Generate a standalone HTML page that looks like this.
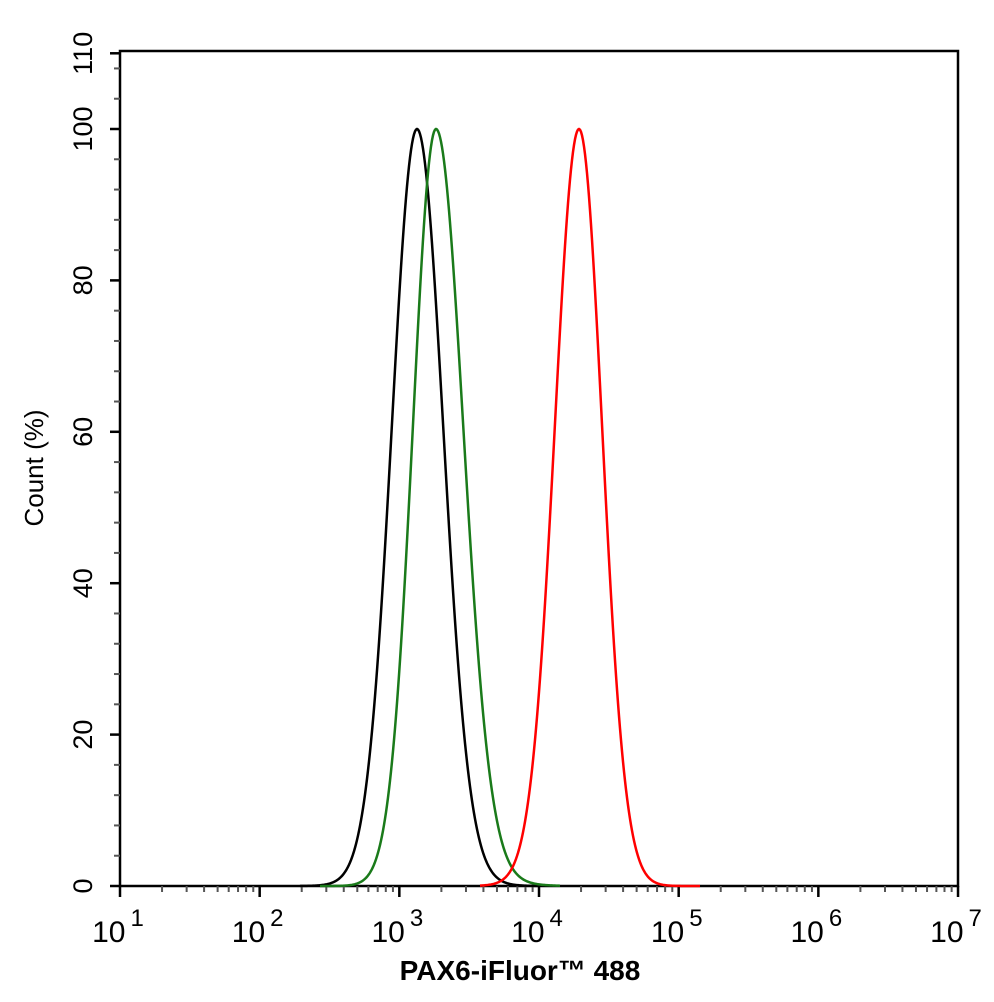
<!DOCTYPE html>
<html><head><style>
body{margin:0;background:#fff;}
svg{display:block;font-family:"Liberation Sans",Arial,sans-serif;}
</style></head><body>
<svg id="s" width="994" height="1002" viewBox="0 0 994 1002" xmlns="http://www.w3.org/2000/svg">
<rect x="120" y="51" width="838" height="835" fill="none" stroke="#000" stroke-width="2.5"/>
<g id="ticks"></g>
<g fill="#000">
<text transform="translate(43,468) rotate(-90)" text-anchor="middle" font-size="26">Count  (%)</text>
<text x="520" y="980" text-anchor="middle" font-weight="bold" font-size="28">PAX6-iFluor™ 488</text>
</g>
<g id="lbl" font-size="27"></g>
<path id="k" fill="none" stroke="#000" stroke-width="2.5"/>
<path id="g" fill="none" stroke="#1a7a1a" stroke-width="2.5"/>
<path id="r" fill="none" stroke="#f00" stroke-width="2.5"/>
</svg>
<script>
var NS="http://www.w3.org/2000/svg",t=document.getElementById('ticks'),l=document.getElementById('lbl');
function ln(x1,y1,x2,y2,w,c){var e=document.createElementNS(NS,'line');e.setAttribute('x1',x1);e.setAttribute('y1',y1);e.setAttribute('x2',x2);e.setAttribute('y2',y2);e.setAttribute('stroke',c||'#000');e.setAttribute('stroke-width',w);t.appendChild(e);}
function tx(x,y,s,a,rot,fs){var e=document.createElementNS(NS,'text');e.setAttribute('x',x);e.setAttribute('y',y);e.setAttribute('text-anchor',a);if(rot)e.setAttribute('transform','rotate(-90 '+x+' '+y+')');if(fs)e.setAttribute('font-size',fs);e.textContent=s;l.appendChild(e);}
var Y=function(v){return 886-v*7.57};
for(var v=0;v<=110;v+=2){ if(v%20==0||v==110){ln(110,Y(v),120,Y(v),2.5);}else if(v%4==0){ln(114,Y(v),120,Y(v),2,'#555');}}
[0,20,40,60,80,100,110].forEach(function(v){tx(92,Y(v),String(v),'middle',true);});
var D=139.67;
for(var d=0;d<6;d++){var x0=120+d*D;for(var m=2;m<=9;m++){var x=x0+Math.log10(m)*D;ln(x,886,x,892,2,'#555');}}
for(var d=0;d<=6;d++){var x=120+d*D;ln(x,886,x,897,2.5);
 var e=document.createElementNS(NS,'text');e.setAttribute('x',x-2);e.setAttribute('y',942);e.setAttribute('text-anchor','middle');e.setAttribute('font-size','30');
 e.innerHTML='10<tspan dy="-16" font-size="24" dx="5">'+(d+1)+'</tspan>';l.appendChild(e);}
function curve(id,c,sl,sr,tl,tr,x0,x1){var p='';for(var x=x0;x<=x1;x+=1){var dx=x-c,s=dx<0?sl:sr,tail=dx<0?tl:tr;
 var v=100*(Math.exp(-dx*dx/(2*s*s))*0.97+0.03*Math.exp(-dx*dx/(2*tail*tail)));if(v<0.01)v=0;
 p+=(p?'L':'M')+x+' '+Y(v).toFixed(2);}document.getElementById(id).setAttribute('d',p);}
curve('k',417,25,26,34,36,300,540);
curve('g',436,23,27,28,42,320,560);
curve('r',579,24,23,33,28,480,700);
</script>
</body></html>
